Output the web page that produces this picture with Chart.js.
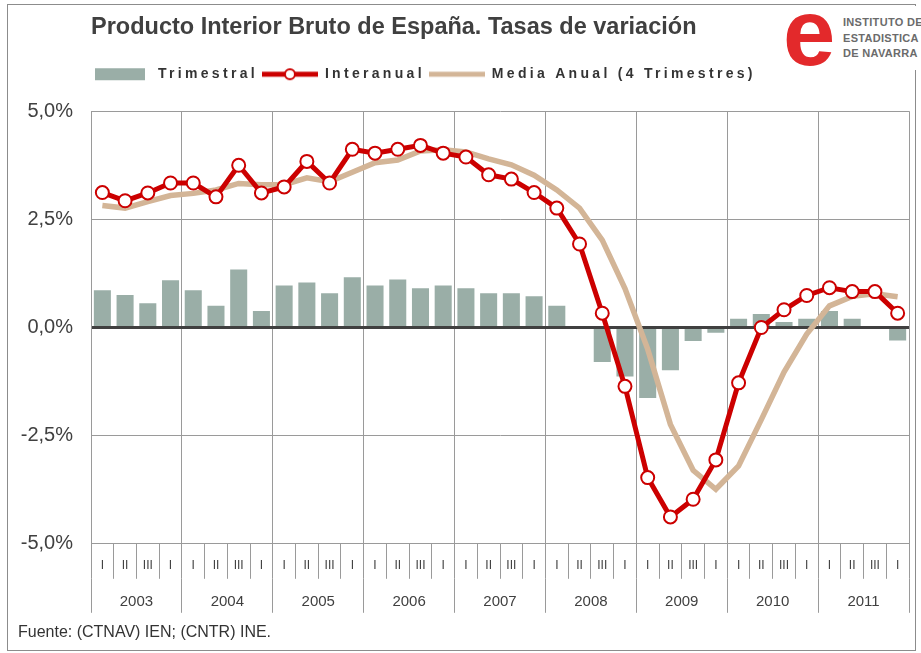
<!DOCTYPE html>
<html lang="es">
<head>
<meta charset="utf-8">
<title>PIB España - Tasas de variación</title>
<script src="https://cdn.jsdelivr.net/npm/chart.js@4.4.1/dist/chart.umd.min.js"></script>
<style>
  html, body { margin: 0; padding: 0; background: #fff; }
  #wrap { position: relative; width: 921px; height: 653px; }
  #marco { position: absolute; left: 7px; top: 4px; width: 909px; height: 647px; box-sizing: border-box; border: 1px solid #8c8c8c; pointer-events: none; }
  #logo { position: absolute; left: 778px; top: 6px; width: 143px; height: 64px; background: #fff; overflow: hidden; }
  #logo .e { position: absolute; left: 5px; top: -20px; font: bold 94px 'Liberation Sans', Arial, sans-serif; color: #e3292b; line-height: 1; }
  #logo .txt { position: absolute; left: 65px; top: 9px; font: bold 11px 'Liberation Sans', Arial, sans-serif; color: #6b6b6b; line-height: 15.5px; letter-spacing: 0.3px; white-space: nowrap; }
</style>
</head>
<body>
<div id="wrap">
  <canvas id="chartPib"></canvas>
  <div id="marco"></div>
  <div id="logo"><span class="e">e</span><div class="txt">INSTITUTO DE<br>ESTADISTICA<br>DE NAVARRA</div></div>
</div>
<script>
const ANIOS      = ['2003','2004','2005','2006','2007','2008','2009','2010','2011'];
const TRIM_LBL   = ['I','II','III','I'];
const Y_TICKS    = [-5, -2.5, 0, 2.5, 5];

// Tasas trimestrales (%)
const TRIMESTRAL = [
   0.86,  0.75,  0.56,  1.09,
   0.86,  0.50,  1.34,  0.38,
   0.97,  1.04,  0.79,  1.16,
   0.97,  1.11,  0.91,  0.97,
   0.91,  0.79,  0.79,  0.72,
   0.50,  0.00, -0.80, -1.13,
  -1.63, -0.99, -0.31, -0.12,
   0.20,  0.31,  0.13,  0.20,
   0.38,  0.20,  0.00, -0.30,
];

// Tasas interanuales (%)
const INTERANUAL = [
   3.12,  2.93,  3.11,  3.34,
   3.34,  3.02,  3.75,  3.11,
   3.25,  3.84,  3.34,  4.12,
   4.03,  4.12,  4.21,  4.03,
   3.94,  3.53,  3.43,  3.12,
   2.76,  1.93,  0.33, -1.36,
  -3.47, -4.38, -3.97, -3.06,
  -1.28,  0.00,  0.41,  0.74,
   0.92,  0.83,  0.83,  0.33,
];

// Media anual de 4 trimestres (%)
const MEDIA_ANUAL = [
   2.82,  2.76,  2.91,  3.05,
   3.10,  3.18,  3.33,  3.30,
   3.30,  3.46,  3.37,  3.59,
   3.81,  3.87,  4.08,  4.11,
   4.06,  3.90,  3.76,  3.52,
   3.18,  2.76,  2.02,  0.90,
  -0.50, -2.24, -3.30, -3.74,
  -3.20, -2.13, -1.03, -0.15,
   0.50,  0.72,  0.78,  0.71,
];

const C_BARRA = '#9aaea7';
const C_ROJO  = '#cc0000';
const C_MEDIA = '#d3b597';
const C_GRID  = '#9a9a9a';
const C_TEXTO = '#404040';

const etiquetas = ANIOS.flatMap(() => TRIM_LBL);

Chart.defaults.font.family = "'Liberation Sans', Arial, sans-serif";
Chart.defaults.color = C_TEXTO;

// muestras de leyenda dibujadas a mano
function muestra(dibuja) {
  const c = document.createElement('canvas');
  c.width = 56; c.height = 16;
  dibuja(c.getContext('2d'));
  return c;
}
const MUESTRAS = [
  muestra(g => { g.fillStyle = C_BARRA; g.fillRect(0, 2, 50, 12); }),
  muestra(g => {
    g.strokeStyle = C_ROJO; g.lineWidth = 5;
    g.beginPath(); g.moveTo(0, 8); g.lineTo(56, 8); g.stroke();
    g.fillStyle = '#fff'; g.lineWidth = 2;
    g.beginPath(); g.arc(28, 8, 5, 0, Math.PI * 2); g.fill(); g.stroke();
  }),
  muestra(g => {
    g.strokeStyle = C_MEDIA; g.lineWidth = 5;
    g.beginPath(); g.moveTo(0, 8); g.lineTo(56, 8); g.stroke();
  }),
];

// espaciado de letras en la leyenda + hueco bajo ella
const leyendaEspaciada = {
  id: 'leyendaEspaciada',
  afterInit(chart) {
    const lg = chart.legend;
    if (!lg) return;
    const fit = lg.fit, draw = lg.draw;
    lg.fit = function () {
      this.ctx.save();
      this.ctx.letterSpacing = '3.3px';
      fit.call(this);
      this.ctx.restore();
      this.height += 20;
    };
    lg.draw = function () {
      this.ctx.save();
      this.ctx.letterSpacing = '3.3px';
      draw.call(this);
      this.ctx.restore();
    };
  }
};

new Chart(document.getElementById('chartPib'), {
  type: 'bar',
  data: {
    labels: etiquetas,
    datasets: [
      {
        type: 'bar',
        label: 'Trimestral',
        data: TRIMESTRAL,
        backgroundColor: C_BARRA,
        borderWidth: 0,
        categoryPercentage: 1,
        barPercentage: 0.75,
        order: 3,
      },
      {
        type: 'line',
        label: 'Interanual',
        data: INTERANUAL,
        borderColor: C_ROJO,
        borderWidth: 5,
        pointRadius: 6.5,
        pointBorderWidth: 2,
        pointBackgroundColor: '#fff',
        pointBorderColor: C_ROJO,
        tension: 0,
        order: 1,
      },
      {
        type: 'line',
        label: 'Media Anual (4 Trimestres)',
        data: MEDIA_ANUAL,
        borderColor: C_MEDIA,
        borderWidth: 5.5,
        pointRadius: 0,
        tension: 0,
        order: 2,
      },
    ],
  },
  options: {
    responsive: true,
    maintainAspectRatio: false,
    animation: false,
    layout: { padding: { left: 18, right: 12, top: 0, bottom: 0 } },
    plugins: {
      tooltip: { enabled: false },
      title: {
        display: true,
        text: 'Producto Interior Bruto de España. Tasas de variación',
        align: 'start',
        fullSize: false,
        color: C_TEXTO,
        font: { family: "'Liberation Sans Narrow', 'Arial Narrow', 'Liberation Sans', sans-serif", size: 23.5, weight: 'bold' },
        padding: { top: 13, bottom: 22 },
      },
      subtitle: {
        display: true,
        position: 'bottom',
        align: 'start',
        text: 'Fuente: (CTNAV) IEN; (CNTR) INE.',
        color: '#333',
        font: { size: 16 },
        padding: { top: 4, bottom: 11 },
      },
      legend: {
        position: 'top',
        align: 'start',
        fullSize: false,
        labels: {
          usePointStyle: true,
          pointStyleWidth: 56,
          padding: 4,
          color: '#333',
          font: { size: 14, weight: 'bold' },
          sort: (a, b) => a.datasetIndex - b.datasetIndex,
          generateLabels: chart => Chart.defaults.plugins.legend.labels.generateLabels(chart)
            .map(it => Object.assign(it, { pointStyle: MUESTRAS[it.datasetIndex] })),
        },
      },
    },
    scales: {
      x: {
        type: 'category',
        offset: true,
        weight: 0,
        grid: {
          offset: true,
          color: ctx => (ctx.index === undefined || ctx.index % 4 === 0) ? C_GRID : 'rgba(0,0,0,0)',
          tickColor: C_GRID,
          tickLength: 35,
          lineWidth: 1,
        },
        border: { display: true, color: C_GRID },
        ticks: { autoSkip: false, maxRotation: 0, padding: -20, color: C_TEXTO, font: { size: 12 } },
        afterFit: s => { s.height = 35; },
      },
      x2: {
        type: 'category',
        labels: ANIOS,
        position: 'bottom',
        offset: true,
        weight: 1,
        grid: { offset: true, drawOnChartArea: false, color: C_GRID, tickLength: 34 },
        border: { display: false },
        ticks: { autoSkip: false, maxRotation: 0, padding: -20, color: C_TEXTO, font: { size: 15 } },
        afterFit: s => { s.height = 40; },
      },
      y: {
        min: -5,
        max: 5,
        afterBuildTicks: s => { s.ticks = Y_TICKS.map(v => ({ value: v })); },
        grid: {
          drawTicks: false,
          color: ctx => ctx.tick && ctx.tick.value === 0 ? C_TEXTO : C_GRID,
          lineWidth: ctx => ctx.tick && ctx.tick.value === 0 ? 3 : 1,
        },
        border: { display: true, color: C_GRID },
        ticks: {
          padding: 18,
          color: C_TEXTO,
          font: { size: 20 },
          callback: v => v.toFixed(1).replace('.', ',') + '%',
        },
        afterFit: s => { s.width = 73; },
      },
    },
  },
  plugins: [leyendaEspaciada],
});
</script>
</body>
</html>
